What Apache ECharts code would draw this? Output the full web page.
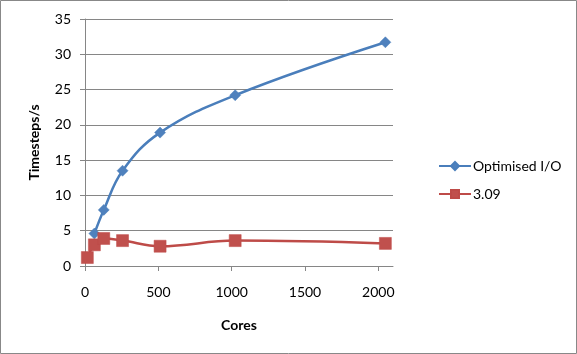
<!DOCTYPE html>
<html>
<head>
<meta charset="utf-8">
<script src="https://cdn.jsdelivr.net/npm/echarts@6/dist/echarts.min.js"></script>
<style>
html, body { margin: 0; padding: 0; background: #fff; }
#container { width: 577px; height: 354px; }
</style>
</head>
<body>
<div id="container"></div>
<script>
var dom = document.getElementById("container");
var myChart = echarts.init(dom);

// data
var optCores = [64, 128, 256, 512, 1024, 2048];
var optValues = [4.6, 7.95, 13.5, 18.9, 24.2, 31.7];
var oldCores = [16, 64, 128, 256, 512, 1024, 2048];
var oldValues = [1.2, 3.0, 3.9, 3.6, 2.8, 3.6, 3.2];
var seriesNames = ['Optimised I/O', '3.09'];

function pairs(xs, ys) {
    var out = [];
    for (var i = 0; i < xs.length; i++) out.push([xs[i], ys[i]]);
    return out;
}

var font = 'Lato, "Open Sans", sans-serif';
var axisGrey = '#868686';

var option = {
    animation: false,
    textStyle: { fontFamily: font },
    graphic: [{
        type: 'rect',
        shape: { x: 0.5, y: 0.5, width: 576, height: 353 },
        style: { fill: 'none', stroke: '#888888', lineWidth: 1 }
    }],
    grid: { left: 85, right: 184, top: 19, bottom: 88 },
    legend: {
        orient: 'vertical',
        left: 433,
        top: 154,
        itemWidth: 32,
        itemHeight: 10,
        itemGap: 14,
        textStyle: { fontFamily: font, fontSize: 14, color: '#000', padding: [0, 0, 0, -3] },
        data: seriesNames
    },
    xAxis: {
        type: 'value',
        min: 0,
        max: 2100,
        interval: 500,
        name: 'Cores',
        nameLocation: 'middle',
        nameGap: 52,
        nameTextStyle: { fontFamily: font, fontSize: 14, fontWeight: 'bold', color: '#000' },
        axisLine: { show: true, lineStyle: { color: axisGrey } },
        axisTick: { show: true, inside: false, length: 5, lineStyle: { color: axisGrey } },
        axisLabel: {
            fontFamily: font, fontSize: 14, color: '#000', margin: 19, showMaxLabel: false,
            formatter: function (v) { return String(v); }
        },
        splitLine: { show: false }
    },
    yAxis: {
        type: 'value',
        min: 0,
        max: 35,
        interval: 5,
        name: 'Timesteps/s',
        nameLocation: 'middle',
        nameGap: 44,
        nameTextStyle: { fontFamily: font, fontSize: 14, fontWeight: 'bold', color: '#000' },
        axisLine: { show: true, lineStyle: { color: axisGrey } },
        axisTick: { show: true, inside: false, length: 5, lineStyle: { color: axisGrey } },
        axisLabel: { fontFamily: font, fontSize: 14, color: '#000', margin: 14 },
        splitLine: { show: true, lineStyle: { color: axisGrey, width: 1 } }
    },
    series: [
        {
            name: seriesNames[0],
            type: 'line',
            smooth: 0.4,
            symbol: 'diamond',
            symbolSize: 11,
            itemStyle: { color: '#4F81BD', borderColor: '#4A7EBB', borderWidth: 0.5 },
            lineStyle: { color: '#4A7EBB', width: 2.5 },
            data: pairs(optCores, optValues)
        },
        {
            name: seriesNames[1],
            type: 'line',
            smooth: 0.4,
            symbol: 'rect',
            symbolSize: 12,
            itemStyle: { color: '#C0504D', borderColor: '#BE4B48', borderWidth: 0.5 },
            lineStyle: { color: '#BE4B48', width: 2.5 },
            data: pairs(oldCores, oldValues)
        }
    ]
};
if (option && typeof option === "object") {
    myChart.setOption(option, true);
}
</script>
</body>
</html>
